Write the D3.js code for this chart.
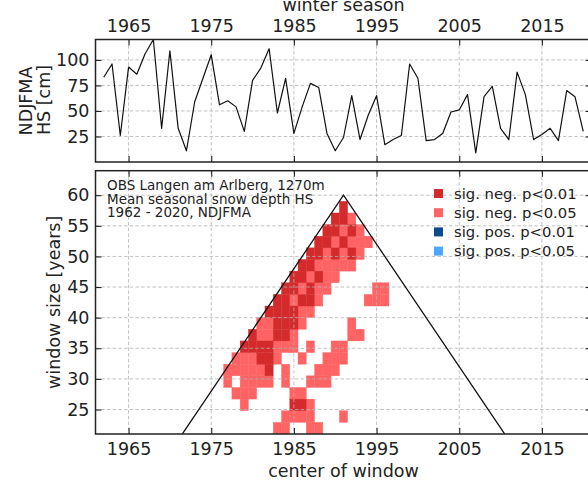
<!DOCTYPE html>
<html><head><meta charset="utf-8">
<script src="https://cdn.jsdelivr.net/npm/d3@7"></script>
<style>
body{margin:0;background:#fff}
svg{display:block}
text{font-family:"DejaVu Sans",sans-serif;fill:#222}
</style>
</head><body>
<svg id="chart" width="588" height="492"></svg>
<script>
// ---------------- data ----------------
const seasons = [1962,1963,1964,1965,1966,1967,1968,1969,1970,1971,
  1972,1973,1974,1975,1976,1977,1978,1979,1980,1981,
  1982,1983,1984,1985,1986,1987,1988,1989,1990,1991,
  1992,1993,1994,1995,1996,1997,1998,1999,2000,2001,
  2002,2003,2004,2005,2006,2007,2008,2009,2010,2011,
  2012,2013,2014,2015,2016,2017,2018,2019,2020];
const hsMean = [83,96,26,93,86,106,120,33,109,33,
  11,59,82,105,56,60,54,30,80,92,
  111,48,82,28,54,77,73,28,11,24,
  65,22,46,65,17,22,26,96,82,21,
  22,28,49,51,66,9,64,74,33,22,
  88,66,22,27,33,21,70,64,30];

const yearTicks = [1965,1975,1985,1995,2005,2015];
const hsTicks = [25,50,75,100];
const windowTicks = [25,30,35,40,45,50,55,60];
const windowSizes = [59,57,55,53,51,49,47,45,43,41,39,37,35,33,31,29,27,25,23,21];

// [center of window, window size]
const negP01 = [
  [1991,59],
  [1990,57],[1991,57],
  [1989,55],[1990,55],[1992,55],
  [1988,53],[1989,53],[1991,53],
  [1987,51],[1988,51],[1990,51],[1992,51],
  [1986,49],[1987,49],
  [1985,47],[1986,47],[1988,47],
  [1984,45],[1985,45],[1987,45],
  [1983,43],[1984,43],[1986,43],[1987,43],
  [1982,41],[1983,41],[1984,41],[1985,41],
  [1983,39],[1984,39],[1985,39],
  [1980,37],[1983,37],[1984,37],
  [1979,35],[1980,35],[1981,35],[1982,35],
  [1981,33],[1982,33],
  [1982,31],
  [1985,25],[1986,25]
];
const negP05 = [
  [1992,57],
  [1991,55],[1993,55],
  [1990,53],[1992,53],[1993,53],[1994,53],
  [1989,51],[1991,51],[1993,51],
  [1988,49],[1989,49],[1990,49],[1991,49],[1992,49],
  [1987,47],[1989,47],[1990,47],
  [1986,45],[1988,45],[1989,45],[1995,45],[1996,45],
  [1985,43],[1988,43],[1994,43],[1995,43],[1996,43],
  [1986,41],[1987,41],
  [1981,39],[1982,39],[1986,39],[1992,39],
  [1981,37],[1982,37],[1985,37],[1992,37],[1993,37],
  [1983,35],[1984,35],[1985,35],[1987,35],[1990,35],[1991,35],
  [1978,33],[1979,33],[1980,33],[1983,33],[1986,33],[1989,33],[1990,33],[1991,33],
  [1977,31],[1978,31],[1979,31],[1980,31],[1981,31],[1984,31],[1988,31],[1989,31],[1990,31],
  [1977,29],[1979,29],[1980,29],[1981,29],[1982,29],[1984,29],[1987,29],[1988,29],[1989,29],
  [1978,27],[1979,27],[1980,27],[1985,27],[1986,27],
  [1979,25],[1987,25],
  [1984,23],[1985,23],[1986,23],[1987,23],[1991,23],
  [1983,21],[1984,21],[1987,21],[1988,21]
];
const posP01 = [];
const posP05 = [];

const legendLabels = ["sig. neg. p<0.01","sig. neg. p<0.05","sig. pos. p<0.01","sig. pos. p<0.05"];
const legendColors = ["#d42a2b","#ff6363","#0b4a8b","#4ea7ff"];
const annotationLines = ["OBS Langen am Arlberg, 1270m","Mean seasonal snow depth HS","1962 - 2020, NDJFMA"];

// ---------------- layout ----------------
const svg = d3.select("#chart");
const L = 95.5, R = 591.5;
const top1 = 39.5, bot1 = 162;
const top2 = 170.7, bot2 = 434;
const FS = 17.5;

const x = d3.scaleLinear().domain([seasons[0]-1, seasons[seasons.length-1]+1]).range([L, R]);
const yHS = d3.scaleLinear().domain([0,120]).range([bot1, top1]);
const yW = d3.scaleLinear().domain([21,64]).range([bot2, top2]);

const defs = svg.append("defs");
defs.append("clipPath").attr("id","clip1").append("rect")
  .attr("x",L).attr("y",top1).attr("width",R-L).attr("height",bot1-top1);
defs.append("clipPath").attr("id","clip2").append("rect")
  .attr("x",L).attr("y",top2).attr("width",R-L).attr("height",bot2-top2);

const gridStyle = g => g.attr("stroke","#b3b3b3").attr("stroke-width",0.8).attr("stroke-dasharray","3.5,2.2");

// ---------- top panel ----------
const p1 = svg.append("g");
const g1 = p1.append("g").attr("clip-path","url(#clip1)");
g1.append("g").call(gridStyle).selectAll("line").data(yearTicks).join("line")
  .attr("x1",d=>x(d)).attr("x2",d=>x(d)).attr("y1",top1).attr("y2",bot1);
g1.append("g").call(gridStyle).selectAll("line").data(hsTicks).join("line")
  .attr("x1",L).attr("x2",R).attr("y1",d=>yHS(d)).attr("y2",d=>yHS(d));
g1.append("path").datum(seasons.map((s,i)=>[s,hsMean[i]]))
  .attr("fill","none").attr("stroke","#111").attr("stroke-width",1.2).attr("stroke-linejoin","round")
  .attr("d", d3.line().x(d=>x(d[0])).y(d=>yHS(d[1])));

function styleAxis(g, showLabels){
  g.select(".domain").remove();
  g.selectAll(".tick line").attr("stroke","#222").attr("stroke-width",1.1);
  g.selectAll(".tick text").attr("font-size",FS).attr("fill","#222").attr("font-family","DejaVu Sans, sans-serif");
  if(!showLabels) g.selectAll(".tick text").remove();
}
p1.append("g").attr("transform",`translate(0,${top1})`)
  .call(d3.axisTop(x).tickValues(yearTicks).tickFormat(d3.format("d")).tickSize(-6).tickPadding(8))
  .call(g=>styleAxis(g,true));
p1.append("g").attr("transform",`translate(0,${bot1})`)
  .call(d3.axisBottom(x).tickValues(yearTicks).tickSize(-6))
  .call(g=>styleAxis(g,false));
p1.append("g").attr("transform",`translate(${L},0)`)
  .call(d3.axisLeft(yHS).tickValues(hsTicks).tickSize(-6).tickPadding(6))
  .call(g=>styleAxis(g,true));
p1.append("g").attr("transform",`translate(${R},0)`)
  .call(d3.axisRight(yHS).tickValues(hsTicks).tickSize(-6))
  .call(g=>styleAxis(g,false));
p1.append("rect").attr("x",L).attr("y",top1).attr("width",R-L).attr("height",bot1-top1)
  .attr("fill","none").attr("stroke","#222").attr("stroke-width",1.5);

svg.append("text").attr("x",(L+R)/2).attr("y",11).attr("text-anchor","middle").attr("font-size",FS).text("winter season");
svg.append("text").attr("transform","translate(31.5,101) rotate(-90)").attr("text-anchor","middle").attr("font-size",FS).text("NDJFMA");
svg.append("text").attr("transform","translate(50,100) rotate(-90)").attr("text-anchor","middle").attr("font-size",FS).text("HS [cm]");

// ---------- bottom panel ----------
const p2 = svg.append("g");
const g2 = p2.append("g").attr("clip-path","url(#clip2)");
// cells: rows split the window-size extent evenly
const wMin = d3.min(windowSizes), wMax = d3.max(windowSizes);
const rowH = (wMax - wMin) / windowSizes.length;
const rowTop = w => wMax - windowSizes.indexOf(w) * rowH;
function drawCells(data, color){
  g2.append("g").selectAll("rect").data(data).join("rect")
    .attr("x", d => x(d[0]-0.5))
    .attr("width", d => x(d[0]+0.5) - x(d[0]-0.5))
    .attr("y", d => yW(rowTop(d[1])))
    .attr("height", d => yW(rowTop(d[1]) - rowH) - yW(rowTop(d[1])))
    .attr("fill", color).attr("stroke", color).attr("stroke-width", 0.35);
}
drawCells(negP05, legendColors[1]);
drawCells(negP01, legendColors[0]);
drawCells(posP05, legendColors[3]);
drawCells(posP01, legendColors[2]);

g2.append("g").call(gridStyle).selectAll("line").data(yearTicks).join("line")
  .attr("x1",d=>x(d)).attr("x2",d=>x(d)).attr("y1",top2).attr("y2",bot2);
g2.append("g").call(gridStyle).selectAll("line").data(windowTicks).join("line")
  .attr("x1",L).attr("x2",R).attr("y1",d=>yW(d)).attr("y2",d=>yW(d));

// triangle bounding possible windows
const n = seasons.length;
const tri = [[seasons[0]-1, 0],[seasons[0]+(n-1)/2, n+1],[seasons[n-1]+1, 0]];
g2.append("path").datum(tri).attr("fill","none").attr("stroke","#111").attr("stroke-width",1.3)
  .attr("d", d3.line().x(d=>x(d[0])).y(d=>yW(d[1])));

p2.append("g").attr("transform",`translate(0,${bot2})`)
  .call(d3.axisBottom(x).tickValues(yearTicks).tickFormat(d3.format("d")).tickSize(-6).tickPadding(8.4))
  .call(g=>styleAxis(g,true));
p2.append("g").attr("transform",`translate(0,${top2})`)
  .call(d3.axisTop(x).tickValues(yearTicks).tickSize(-6))
  .call(g=>styleAxis(g,false));
p2.append("g").attr("transform",`translate(${L},0)`)
  .call(d3.axisLeft(yW).tickValues(windowTicks).tickSize(-6).tickPadding(6))
  .call(g=>styleAxis(g,true));
p2.append("g").attr("transform",`translate(${R},0)`)
  .call(d3.axisRight(yW).tickValues(windowTicks).tickSize(-6))
  .call(g=>styleAxis(g,false));
p2.append("rect").attr("x",L).attr("y",top2).attr("width",R-L).attr("height",bot2-top2)
  .attr("fill","none").attr("stroke","#222").attr("stroke-width",1.5);

// annotation
const ann = svg.append("text").attr("font-size",13.5);
annotationLines.forEach((t,i)=>{
  ann.append("tspan").attr("x",107).attr("y",189.8 + i*13.8).text(t);
});

// legend
const leg = svg.append("g");
legendLabels.forEach((t,i)=>{
  const cy = 193.5 + i*19.2;
  leg.append("rect").attr("x",434).attr("y",cy-4.5).attr("width",9).attr("height",9).attr("fill",legendColors[i]);
  leg.append("text").attr("x",454).attr("y",cy).attr("dy","0.35em").attr("font-size",14.8).text(t);
});

// axis labels
svg.append("text").attr("x",(L+R)/2).attr("y",477).attr("text-anchor","middle").attr("font-size",FS).text("center of window");
svg.append("text").attr("transform",`translate(60,${(top2+bot2)/2}) rotate(-90)`).attr("text-anchor","middle").attr("font-size",FS).text("window size [years]");
</script>
</body></html>
